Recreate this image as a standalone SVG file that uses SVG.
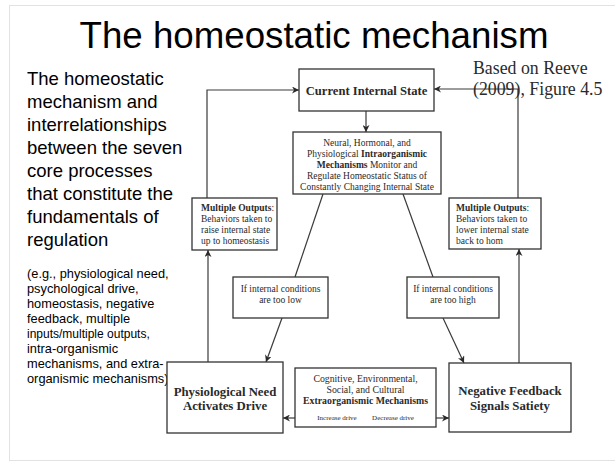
<svg xmlns="http://www.w3.org/2000/svg" width="615" height="462" viewBox="0 0 615 462">
<style>
.box{fill:#fff;stroke:#333;stroke-width:1.3}
.ln{fill:none;stroke:#3a3a3a;stroke-width:1.2}
.s{font-family:"Liberation Serif","Times New Roman",serif;fill:#2a2a2a}
.b{font-weight:bold}
.a{font-family:"Liberation Sans",Arial,sans-serif;fill:#000}
</style>
<defs>
<marker id="ah" viewBox="0 0 10 10" refX="10" refY="5" markerWidth="7" markerHeight="7" markerUnits="userSpaceOnUse" orient="auto">
<path d="M0,0 L10,5 L0,10 L3,5 Z" fill="#2a2a2a"/>
</marker>
</defs>
<rect x="0" y="0" width="615" height="462" fill="#fff"/>
<rect x="9.5" y="5.5" width="620" height="455" fill="none" stroke="#e2e2e2" stroke-width="1"/>
<text class="a" x="314" y="48" font-size="36.7" text-anchor="middle">The homeostatic mechanism</text>
<g id="intro" class="a" font-size="18.5">
<text x="27" y="85">The homeostatic</text>
<text x="27" y="108">mechanism and</text>
<text x="27" y="131">interrelationships</text>
<text x="27" y="154">between the seven</text>
<text x="27" y="177">core processes</text>
<text x="27" y="200">that constitute the</text>
<text x="27" y="223">fundamentals of</text>
<text x="27" y="246">regulation</text>
</g>
<g id="examples" class="a" font-size="12.8">
<text x="27" y="278">(e.g., physiological need,</text>
<text x="27" y="293">psychological drive,</text>
<text x="27" y="308">homeostasis, negative</text>
<text x="27" y="323">feedback, multiple</text>
<text x="27" y="338" font-size="12">inputs/multiple outputs,</text>
<text x="27" y="353">intra-organismic</text>
<text x="27" y="368">mechanisms, and extra-</text>
<text x="27" y="383">organismic mechanisms)</text>
</g>
<g id="connectors">
<polyline class="ln" points="207,198 207,90 299,90" marker-end="url(#ah)"/>
<polyline class="ln" points="518,198 518,89 434,89" marker-end="url(#ah)"/>
<line class="ln" x1="366" y1="111" x2="366" y2="132" marker-end="url(#ah)"/>
<line class="ln" x1="323" y1="194" x2="295" y2="277"/>
<line class="ln" x1="403" y1="194" x2="433" y2="277"/>
<line class="ln" x1="282" y1="318" x2="266" y2="362" marker-end="url(#ah)"/>
<line class="ln" x1="443" y1="318" x2="464" y2="363" marker-end="url(#ah)"/>
<line class="ln" x1="208" y1="362" x2="208" y2="250" marker-end="url(#ah)"/>
<line class="ln" x1="519" y1="363" x2="519" y2="249" marker-end="url(#ah)"/>
<line class="ln" x1="295" y1="418" x2="283" y2="418" marker-end="url(#ah)"/>
<line class="ln" x1="436" y1="418" x2="449" y2="418" marker-end="url(#ah)"/>
</g>
<g id="reeve" class="s" font-size="17.8" fill="#111">
<text x="473" y="74">Based on Reeve</text>
<text x="473" y="95">(2009), Figure 4.5</text>
</g>
<g id="current">
<rect class="box" x="299" y="69" width="135" height="42"/>
<text class="s b" x="366.5" y="94.5" font-size="12.6" text-anchor="middle">Current Internal State</text>
</g>
<g id="intra">
<rect class="box" x="293" y="132" width="148" height="62"/>
<g class="s" font-size="9.5" text-anchor="middle">
<text x="367" y="145.5">Neural, Hormonal, and</text>
<text x="367" y="156.5">Physiological <tspan class="b">Intraorganismic</tspan></text>
<text x="367" y="167.5"><tspan class="b">Mechanisms</tspan> Monitor and</text>
<text x="367" y="178.5">Regulate Homeostatic Status of</text>
<text x="367" y="189.5">Constantly Changing Internal State</text>
</g>
</g>
<g id="outputs-raise">
<rect class="box" x="192" y="198" width="85" height="52"/>
<g class="s" font-size="9.5">
<text x="201" y="210.5"><tspan class="b">Multiple Outputs</tspan>:</text>
<text x="201" y="221.5">Behaviors taken to</text>
<text x="201" y="232.5">raise internal state</text>
<text x="201" y="243.5">up to homeostasis</text>
</g>
</g>
<g id="outputs-lower">
<rect class="box" x="449" y="198" width="92" height="51"/>
<g class="s" font-size="9.5">
<text x="456" y="210.5"><tspan class="b">Multiple Outputs</tspan>:</text>
<text x="456" y="221.5">Behaviors taken to</text>
<text x="456" y="232.5">lower internal state</text>
<text x="456" y="243.5">back to hom</text>
</g>
</g>
<g id="too-low">
<rect class="box" x="233" y="277" width="95" height="41"/>
<g class="s" font-size="9.5" text-anchor="middle">
<text x="280.5" y="292">If internal conditions</text>
<text x="280.5" y="302.5">are too low</text>
</g>
</g>
<g id="too-high">
<rect class="box" x="407" y="277" width="92" height="41"/>
<g class="s" font-size="9.5" text-anchor="middle">
<text x="453" y="292">If internal conditions</text>
<text x="453" y="302.5">are too high</text>
</g>
</g>
<g id="need">
<rect class="box" x="167" y="362" width="116" height="71"/>
<g class="s b" font-size="12.8" text-anchor="middle">
<text x="225" y="395.5">Physiological Need</text>
<text x="225" y="410">Activates Drive</text>
</g>
</g>
<g id="extra">
<rect class="box" x="295" y="368" width="141" height="59"/>
<g class="s" font-size="9.8" text-anchor="middle">
<text x="365.5" y="382">Cognitive, Environmental,</text>
<text x="365.5" y="392.5">Social, and Cultural</text>
<text x="365.5" y="403.5" class="b">Extraorganismic Mechanisms</text>
</g>
<g class="s" font-size="7" text-anchor="middle">
<text x="337" y="419.5">Increase drive</text>
<text x="393" y="419.5">Decrease drive</text>
</g>
</g>
<g id="feedback">
<rect class="box" x="449" y="363" width="122" height="69"/>
<g class="s b" font-size="12.8" text-anchor="middle">
<text x="510" y="395">Negative Feedback</text>
<text x="510" y="409.5">Signals Satiety</text>
</g>
</g>
</svg>
